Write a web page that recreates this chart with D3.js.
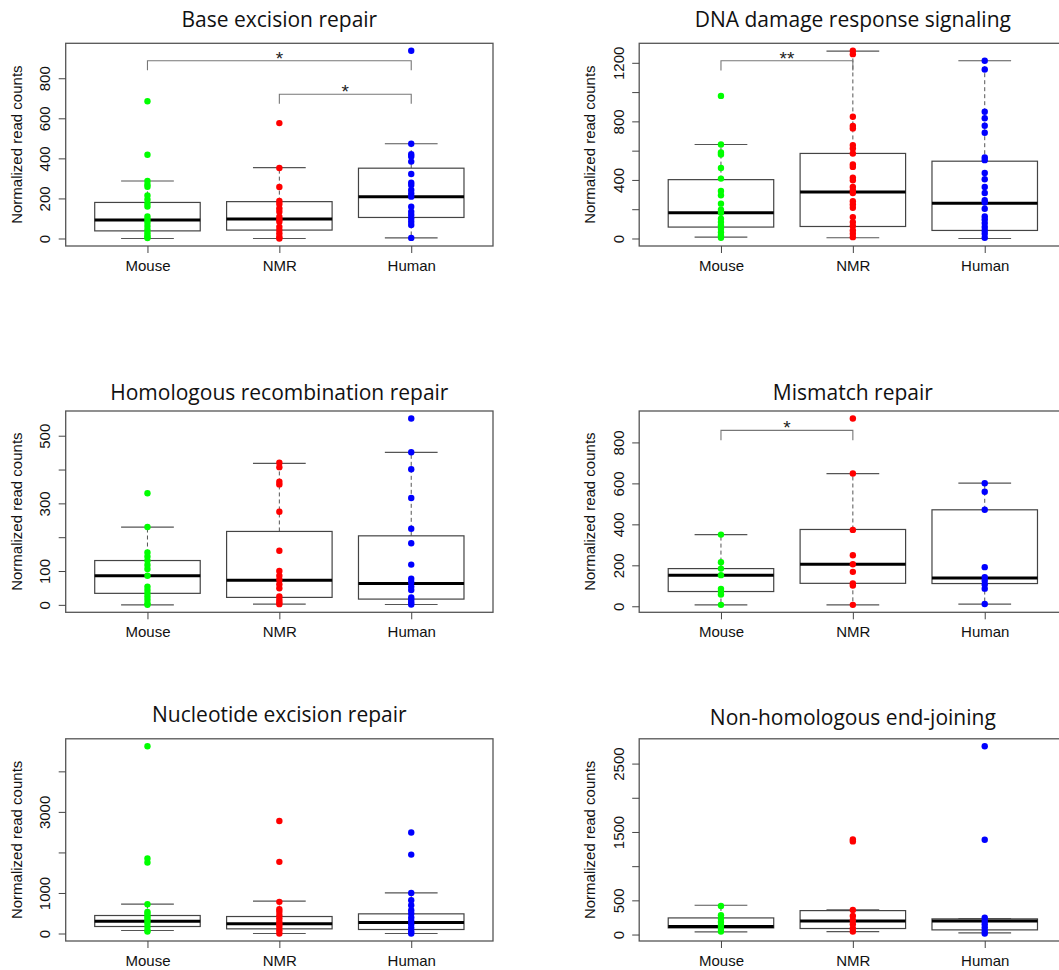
<!DOCTYPE html>
<html>
<head>
<meta charset="utf-8">
<script src="https://cdn.jsdelivr.net/npm/d3@7"></script>
<style>
  body { margin: 0; background: #ffffff; }
  svg { display: block; }
</style>
</head>
<body>
<div id="chart"></div>
<script>
// groups shared by every panel
const species = ["Mouse", "NMR", "Human"];
const speciesColors = ["#00ff00", "#ff0000", "#0000ff"];

// Base excision repair
const berMouse = [685, 418, 287, 270, 258, 215, 195, 175, 160, 110, 95, 80, 62, 45, 30, 18, 8, 2];
const berNmr = [576, 352, 257, 187, 172, 150, 134, 109, 95, 84, 58, 42, 25, 8, 0];
const berHuman = [937, 473, 421, 409, 384, 322, 279, 267, 242, 225, 209, 159, 134, 117, 100, 84, 67, 3];
// [lower whisker, Q1, median, Q3, upper whisker]
const berBoxes = [[0, 38, 92, 180, 287], [0, 42, 97, 184, 354], [3, 105, 209, 351, 473]];
const berTicks = [0, 200, 400, 600, 800];
const berTickLabels = ["0", "200", "400", "600", "800"];
const berBrackets = [
  { from: 1, to: 3, top: 887, leg: 840, label: "*" },
  { from: 2, to: 3, top: 720, leg: 673, label: "*" }
];

// DNA damage response signaling
const ddrMouse = [974, 642, 587, 574, 482, 409, 325, 295, 238, 197, 176, 135, 112, 89, 66, 43, 21, 5];
const ddrNmr = [1282, 1259, 832, 768, 752, 638, 615, 581, 505, 489, 416, 398, 352, 329, 311, 254, 233, 210, 146, 112, 85, 55, 32, 9];
const ddrHuman = [1214, 1154, 866, 821, 770, 722, 553, 535, 448, 405, 352, 311, 261, 245, 203, 151, 130, 105, 78, 55, 32, 5];
const ddrBoxes = [[9, 78, 176, 402, 642], [5, 82, 318, 581, 1280], [0, 55, 240, 528, 1214]];
const ddrTicks = [0, 200, 400, 600, 800, 1000, 1200];
const ddrTickLabels = ["0", "", "400", "", "800", "", "1200"];
const ddrBrackets = [{ from: 1, to: 2, top: 1214, leg: 1147, label: "**" }];

// Homologous recombination repair
const hrrMouse = [330, 230, 155, 143, 131, 118, 106, 86, 54, 44, 34, 25, 15, 5, 0];
const hrrNmr = [420, 407, 364, 356, 275, 160, 100, 86, 74, 61, 49, 25, 15, 8, 2];
const hrrHuman = [551, 451, 401, 316, 225, 182, 119, 77, 67, 54, 44, 22, 15, 8, 1];
const hrrBoxes = [[0, 34, 86, 131, 230], [2, 22, 73, 217, 418], [1, 17, 63, 204, 451]];
const hrrTicks = [0, 100, 200, 300, 400, 500];
const hrrTickLabels = ["0", "100", "", "300", "", "500"];
const hrrBrackets = [];

// Mismatch repair
const mmrMouse = [350, 215, 184, 152, 85, 73, 57, 7];
const mmrNmr = [917, 648, 373, 249, 205, 168, 111, 101, 7];
const mmrHuman = [601, 559, 471, 191, 142, 125, 106, 86, 11];
const mmrBoxes = [[7, 72, 152, 184, 350], [7, 112, 205, 375, 648], [11, 111, 138, 471, 601]];
const mmrTicks = [0, 200, 400, 600, 800];
const mmrTickLabels = ["0", "200", "400", "600", "800"];
const mmrBrackets = [{ from: 1, to: 2, top: 859, leg: 811, label: "*" }];

// Nucleotide excision repair
const nerMouse = [4618, 1849, 1750, 723, 534, 493, 427, 370, 312, 247, 164, 82, 50];
const nerNmr = [2777, 1767, 781, 600, 534, 452, 370, 288, 230, 164, 82, 0];
const nerHuman = [2490, 1947, 1002, 822, 698, 575, 493, 394, 312, 230, 140, 58, 0];
const nerBoxes = [[74, 173, 304, 444, 723], [0, 115, 238, 419, 797], [0, 99, 271, 485, 1002]];
const nerTicks = [0, 1000, 2000, 3000, 4000];
const nerTickLabels = ["0", "1000", "", "3000", ""];
const nerBrackets = [];

// Non-homologous end-joining
const nhejMouse = [418, 282, 233, 185, 136, 88, 44];
const nhejNmr = [1391, 1362, 360, 272, 209, 151, 88, 44];
const nhejHuman = [2753, 1386, 248, 199, 151, 102, 54, 15];
const nhejBoxes = [[39, 97, 117, 243, 428], [44, 88, 199, 350, 360], [24, 68, 199, 229, 233]];
const nhejTicks = [0, 500, 1000, 1500, 2000, 2500];
const nhejTickLabels = ["0", "500", "", "1500", "", "2500"];
const nhejBrackets = [];

const panels = [
  { title: "Base excision repair", points: [berMouse, berNmr, berHuman], boxes: berBoxes, ticks: berTicks, labels: berTickLabels, brackets: berBrackets },
  { title: "DNA damage response signaling", points: [ddrMouse, ddrNmr, ddrHuman], boxes: ddrBoxes, ticks: ddrTicks, labels: ddrTickLabels, brackets: ddrBrackets },
  { title: "Homologous recombination repair", points: [hrrMouse, hrrNmr, hrrHuman], boxes: hrrBoxes, ticks: hrrTicks, labels: hrrTickLabels, brackets: hrrBrackets },
  { title: "Mismatch repair", points: [mmrMouse, mmrNmr, mmrHuman], boxes: mmrBoxes, ticks: mmrTicks, labels: mmrTickLabels, brackets: mmrBrackets },
  { title: "Nucleotide excision repair", points: [nerMouse, nerNmr, nerHuman], boxes: nerBoxes, ticks: nerTicks, labels: nerTickLabels, brackets: nerBrackets },
  { title: "Non-homologous end-joining", points: [nhejMouse, nhejNmr, nhejHuman], boxes: nhejBoxes, ticks: nhejTicks, labels: nhejTickLabels, brackets: nhejBrackets }
];

// page layout
const W = 1059, H = 970;
const colLeft = [65.7, 639.2];
const plotW = 427.3;
const rowTop = [43.3, 411, 738.8];
const rowBottom = [246, 612.3, 941];
const titleBase = [[27.3, 27.3], [400, 400], [721.7, 725]];
const axisFont = "'Liberation Sans', Arial, Helvetica, sans-serif";
const titleFont = "'Open Sans', 'Noto Sans', sans-serif";

const svg = d3.select("#chart").append("svg")
  .attr("width", W)
  .attr("height", H);

svg.append("rect").attr("width", W).attr("height", H).attr("fill", "#fff");

panels.forEach((p, i) => {
  const row = Math.floor(i / 2), col = i % 2;
  const left = colLeft[col], right = left + plotW;
  const top = rowTop[row], bottom = rowBottom[row];

  // R style: x range 0.5..3.5 widened 4%, y data range widened 4%
  const x = d3.scaleLinear().domain([0.38, 3.62]).range([left, right]);
  const allVals = p.points.flat().concat(p.boxes.flat());
  const [lo, hi] = d3.extent(allVals);
  const pad = (hi - lo) * 0.04;
  const y = d3.scaleLinear().domain([lo - pad, hi + pad]).range([bottom, top]);

  const g = svg.append("g");

  // title
  g.append("text")
    .attr("x", (left + right) / 2)
    .attr("y", titleBase[row][col])
    .attr("text-anchor", "middle")
    .attr("font-family", titleFont)
    .attr("font-size", 21)
    .attr("fill", "#111")
    .text(p.title);

  // boxes
  p.boxes.forEach((b, k) => {
    const cx = x(k + 1);
    const half = x(1.4) - x(1);
    const staple = x(1.2) - x(1);
    const bg = g.append("g");
    // dashed whiskers
    bg.append("line").attr("x1", cx).attr("x2", cx).attr("y1", y(b[3])).attr("y2", y(b[4]))
      .attr("stroke", "#555").attr("stroke-dasharray", "4,3");
    bg.append("line").attr("x1", cx).attr("x2", cx).attr("y1", y(b[1])).attr("y2", y(b[0]))
      .attr("stroke", "#555").attr("stroke-dasharray", "4,3");
    // staples
    [b[0], b[4]].forEach(v => {
      bg.append("line").attr("x1", cx - staple).attr("x2", cx + staple).attr("y1", y(v)).attr("y2", y(v))
        .attr("stroke", "#555").attr("stroke-width", 1.2);
    });
    bg.append("rect")
      .attr("x", cx - half).attr("width", half * 2)
      .attr("y", y(b[3])).attr("height", y(b[1]) - y(b[3]))
      .attr("fill", "#fff").attr("stroke", "#444").attr("stroke-width", 1.2);
    bg.append("line").attr("x1", cx - half).attr("x2", cx + half).attr("y1", y(b[2])).attr("y2", y(b[2]))
      .attr("stroke", "#000").attr("stroke-width", 3);
  });

  // points
  p.points.forEach((vals, k) => {
    g.append("g").selectAll("circle").data(vals).join("circle")
      .attr("cx", x(k + 1))
      .attr("cy", d => y(d))
      .attr("r", 3.2)
      .attr("fill", speciesColors[k]);
  });

  // significance brackets
  p.brackets.forEach(br => {
    const x1 = x(br.from), x2 = x(br.to);
    g.append("path")
      .attr("d", `M${x1},${y(br.leg)}V${y(br.top)}H${x2}V${y(br.leg)}`)
      .attr("fill", "none").attr("stroke", "#777").attr("stroke-width", 1.1);
    g.append("text")
      .attr("x", (x1 + x2) / 2)
      .attr("y", y(br.top) + 4)
      .attr("text-anchor", "middle")
      .attr("font-family", axisFont)
      .attr("font-size", 19)
      .attr("fill", "#222")
      .text(br.label);
  });

  // frame
  g.append("rect")
    .attr("x", left).attr("y", top)
    .attr("width", plotW).attr("height", bottom - top)
    .attr("fill", "none").attr("stroke", "#555").attr("stroke-width", 1.3);

  // y axis
  const ya = g.append("g").attr("transform", `translate(${left},0)`)
    .call(d3.axisLeft(y).tickValues(p.ticks).tickFormat((d, j) => p.labels[j]).tickSize(7).tickSizeOuter(0));
  ya.select(".domain").remove();
  ya.selectAll(".tick line").attr("stroke", "#444");
  ya.selectAll(".tick text")
    .attr("x", null).attr("dy", null)
    .attr("transform", "translate(-15.7,0) rotate(-90)")
    .attr("text-anchor", "middle")
    .attr("font-family", axisFont)
    .attr("font-size", 15)
    .attr("fill", "#111");

  // x axis
  const xa = g.append("g").attr("transform", `translate(0,${bottom})`)
    .call(d3.axisBottom(x).tickValues([1, 2, 3]).tickFormat(d => species[d - 1]).tickSize(7).tickPadding(7).tickSizeOuter(0));
  xa.select(".domain").remove();
  xa.selectAll(".tick line").attr("stroke", "#444");
  xa.selectAll(".tick text")
    .attr("font-family", axisFont)
    .attr("font-size", 15)
    .attr("fill", "#111");

  // y axis title
  g.append("text")
    .attr("transform", `translate(${left - 44},${(top + bottom) / 2}) rotate(-90)`)
    .attr("text-anchor", "middle")
    .attr("font-family", axisFont)
    .attr("font-size", 15)
    .attr("fill", "#111")
    .text("Normalized read counts");
});
</script>
</body>
</html>
